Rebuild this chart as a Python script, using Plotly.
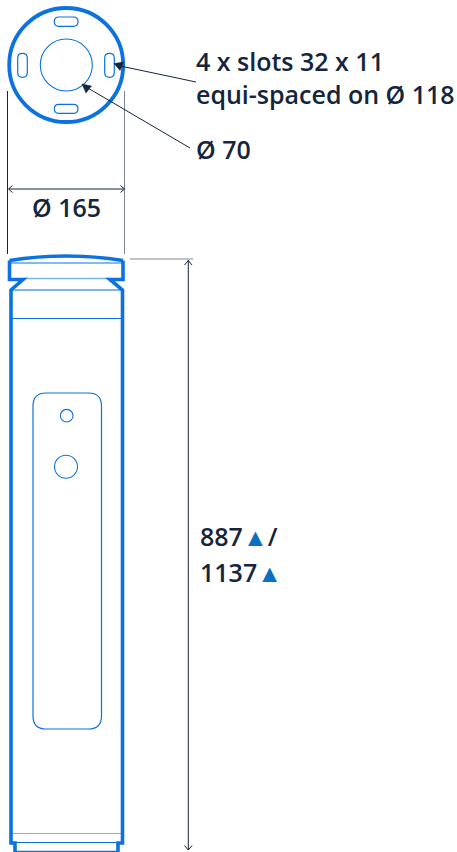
import plotly.graph_objects as go

BLUE = "#0b72e0"
LIGHT = "#7db5f0"
DARK = "#14253d"
GREY = "#7d8794"
TRI = "#0a70c2"

# Drawing geometry, in drawing units (the axes run 0-457 and 852-0)
head_circle = (66.2, 65, 57)
bore_circle = (66.3, 65, 26)
hole_circles = [(66.7, 415.7, 6.3), (66, 466.7, 11.5)]
slots = [(54.3, 17, 78, 26.3, 4.5), (54.3, 104.3, 78, 113.3, 4.5),
         (17.7, 53.3, 27.3, 77.3, 4.8), (104.7, 53.3, 114.3, 77.3, 4.8)]
panel = (33, 393, 101.5, 729, 13)

body_left_x = [9.5, 9.5, 23, 11, 11, 15, 15]
body_left_y = [260.5, 279.5, 279.5, 290, 843, 843, 852]
body_right_x = [123, 123, 110, 122.5, 122.5, 118, 118]
cap_arc = (9.5, 260.5, 66, 251.5, 123, 260.5)
thin_lines = [(11, 263, 122, 263, 1.2, BLUE), (23, 278.5, 110, 278.5, 1.5, LIGHT),
              (12, 290, 121, 290, 1.8, LIGHT), (12, 318.5, 121, 318.5, 1, BLUE),
              (12, 833.5, 121, 833.5, 1.2, LIGHT), (15, 842.5, 118, 842.5, 1.2, BLUE),
              (15, 851.5, 118, 851.5, 1.5, BLUE)]
dim_lines = [(7.5, 91, 7.5, 254, DARK), (124.5, 91, 124.5, 254, GREY),
             (9, 189, 124, 189, DARK), (130, 259, 193, 259, GREY),
             (188.3, 260, 188.3, 850, DARK)]
open_heads = [((12.5, 185.5), (8.5, 189), (12.5, 192.5)),
              ((120.5, 185.5), (124.5, 189), (120.5, 192.5)),
              ((184.5, 265), (188.3, 260.5), (192, 265)),
              ((184.5, 845.5), (188.3, 850), (192, 845.5))]
leaders = [(196, 82, 118, 65.5), (190, 148, 87, 87.5)]
solid_heads = [((114, 63.5), (123.5, 62), (120, 70.5)), ((82, 84), (91.5, 86), (86, 93))]

labels = ["4 x slots 32 x 11", "equi-spaced on Ø 118", "Ø 70", "Ø 165",
          "887<span style='color:%s'>▲</span>/" % TRI,
          "1137<span style='color:%s'>▲</span>" % TRI]
label_x = [196, 196, 196, 32, 200, 200]
label_y = [65, 98, 153, 211, 540, 576]


def rounded(x0, y0, x1, y1, r):
    return (f"M{x0+r},{y0} L{x1-r},{y0} Q{x1},{y0} {x1},{y0+r} L{x1},{y1-r} "
            f"Q{x1},{y1} {x1-r},{y1} L{x0+r},{y1} Q{x0},{y1} {x0},{y1-r} "
            f"L{x0},{y0+r} Q{x0},{y0} {x0+r},{y0} Z")


def poly(xs, ys):
    return "M" + " L".join(f"{x},{y}" for x, y in zip(xs, ys))


shapes = []


def add_path(path, color, width, fill=None):
    shapes.append(dict(type="path", path=path, xref="x", yref="y",
                       line=dict(color=color, width=width),
                       fillcolor=fill or "rgba(0,0,0,0)"))


def add_circle(cx, cy, r, color, width):
    shapes.append(dict(type="circle", xref="x", yref="y", x0=cx-r, x1=cx+r, y0=cy-r, y1=cy+r,
                       line=dict(color=color, width=width)))


def add_line(x0, y0, x1, y1, color, width):
    shapes.append(dict(type="line", xref="x", yref="y", x0=x0, y0=y0, x1=x1, y1=y1,
                       line=dict(color=color, width=width)))


add_circle(*head_circle, BLUE, 3.8)
add_circle(*bore_circle, BLUE, 1.1)
for c in hole_circles:
    add_circle(*c, BLUE, 1.1)
for s in slots:
    add_path(rounded(*s), BLUE, 1.2)
add_path(rounded(*panel), BLUE, 1.2)

for x0, y0, x1, y1, w, col in thin_lines:
    add_line(x0, y0, x1, y1, col, w)
add_path(poly(body_left_x, body_left_y), BLUE, 3.6)
add_path(poly(body_right_x, body_left_y), BLUE, 3.6)
a = cap_arc
add_path(f"M{a[0]},{a[1]} Q{a[2]},{a[3]} {a[4]},{a[5]}", BLUE, 3.4)

for x0, y0, x1, y1, col in dim_lines:
    add_line(x0, y0, x1, y1, col, 1)
for h in open_heads:
    add_path(poly(*zip(*h)), DARK, 1)
for x0, y0, x1, y1 in leaders:
    add_line(x0, y0, x1, y1, DARK, 1)
for h in solid_heads:
    add_path(poly(*zip(*h)) + " Z", DARK, 0.5, DARK)

fig = go.Figure(go.Scatter(
    x=label_x, y=label_y, text=labels, mode="text", textposition="middle right",
    textfont=dict(family="Open Sans", size=25, color=DARK, weight=600),
    hoverinfo="skip", showlegend=False, cliponaxis=False))

fig.update_layout(
    width=457, height=852, margin=dict(l=0, r=0, t=0, b=0),
    paper_bgcolor="white", plot_bgcolor="white", shapes=shapes,
    xaxis=dict(range=[0, 457], visible=False, fixedrange=True),
    yaxis=dict(range=[852, 0], visible=False, fixedrange=True),
)
fig.write_html("out.html", config=dict(displayModeBar=False),
               post_script="document.body.style.margin='0';document.body.style.overflow='hidden';")
